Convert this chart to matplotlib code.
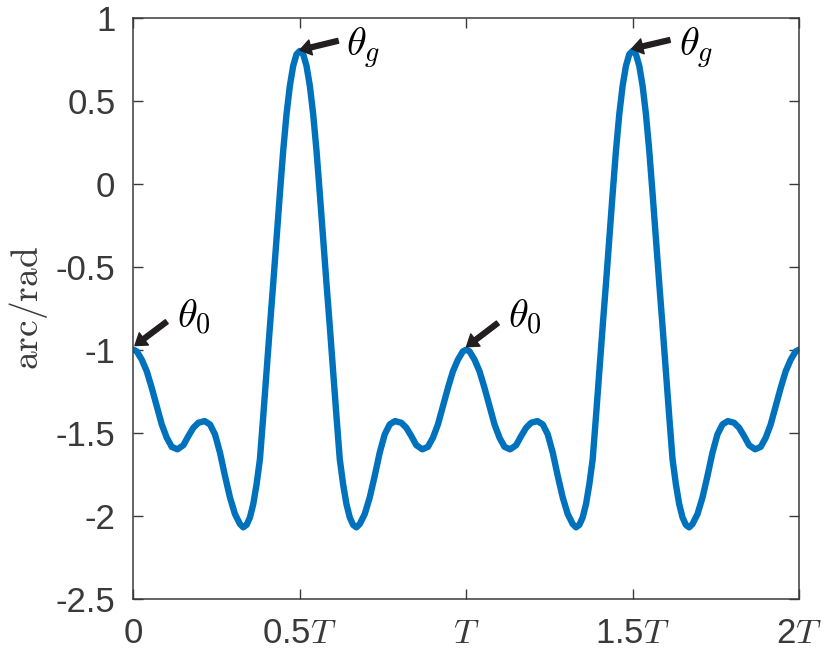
import matplotlib
matplotlib.use("Agg")
import matplotlib.pyplot as plt

plt.rcParams['font.family'] = ['Liberation Sans', 'DejaVu Sans']
plt.rcParams['mathtext.fontset'] = 'cm'

# time in units of T, angle in rad
t_vals = [0.000, 0.010, 0.025, 0.040, 0.055, 0.070, 0.085, 0.100, 0.115, 0.132,
          0.150, 0.165, 0.180, 0.195, 0.214, 0.230, 0.245, 0.260, 0.275, 0.290,
          0.305, 0.320, 0.330, 0.340, 0.350, 0.360, 0.370, 0.380, 0.390, 0.400,
          0.410, 0.420, 0.430, 0.440, 0.450, 0.460, 0.470, 0.480, 0.490, 0.500,
          0.510, 0.520, 0.530, 0.540, 0.550, 0.560, 0.570, 0.580, 0.590, 0.600,
          0.610, 0.620, 0.630, 0.640, 0.650, 0.660, 0.670, 0.680, 0.695, 0.710,
          0.725, 0.740, 0.755, 0.770, 0.786, 0.805, 0.820, 0.835, 0.850, 0.868,
          0.885, 0.900, 0.915, 0.930, 0.945, 0.960, 0.975, 0.990, 1.000,
          1.010, 1.025, 1.040, 1.055, 1.070, 1.085, 1.100, 1.115, 1.132,
          1.150, 1.165, 1.180, 1.195, 1.214, 1.230, 1.245, 1.260, 1.275, 1.290,
          1.305, 1.320, 1.330, 1.340, 1.350, 1.360, 1.370, 1.380, 1.390, 1.400,
          1.410, 1.420, 1.430, 1.440, 1.450, 1.460, 1.470, 1.480, 1.490, 1.500,
          1.510, 1.520, 1.530, 1.540, 1.550, 1.560, 1.570, 1.580, 1.590, 1.600,
          1.610, 1.620, 1.630, 1.640, 1.650, 1.660, 1.670, 1.680, 1.695, 1.710,
          1.725, 1.740, 1.755, 1.770, 1.786, 1.805, 1.820, 1.835, 1.850, 1.868,
          1.885, 1.900, 1.915, 1.930, 1.945, 1.960, 1.975, 1.990, 2.000]
theta_vals = [-1.00, -1.01, -1.06, -1.13, -1.23, -1.34, -1.45, -1.53, -1.585, -1.60,
              -1.575, -1.52, -1.47, -1.44, -1.43, -1.45, -1.51, -1.62, -1.76, -1.89,
              -1.99, -2.05, -2.07, -2.055, -2.01, -1.93, -1.81, -1.66, -1.40, -1.13,
              -0.86, -0.60, -0.33, -0.06, 0.20, 0.42, 0.59, 0.71, 0.78, 0.80,
              0.78, 0.71, 0.59, 0.42, 0.20, -0.06, -0.33, -0.60, -0.86, -1.13,
              -1.40, -1.66, -1.81, -1.93, -2.01, -2.055, -2.07, -2.05, -1.99, -1.89,
              -1.76, -1.62, -1.51, -1.45, -1.43, -1.44, -1.47, -1.52, -1.575, -1.60,
              -1.585, -1.53, -1.45, -1.34, -1.23, -1.13, -1.06, -1.01, -1.00,
              -1.01, -1.06, -1.13, -1.23, -1.34, -1.45, -1.53, -1.585, -1.60,
              -1.575, -1.52, -1.47, -1.44, -1.43, -1.45, -1.51, -1.62, -1.76, -1.89,
              -1.99, -2.05, -2.07, -2.055, -2.01, -1.93, -1.81, -1.66, -1.40, -1.13,
              -0.86, -0.60, -0.33, -0.06, 0.20, 0.42, 0.59, 0.71, 0.78, 0.80,
              0.78, 0.71, 0.59, 0.42, 0.20, -0.06, -0.33, -0.60, -0.86, -1.13,
              -1.40, -1.66, -1.81, -1.93, -2.01, -2.055, -2.07, -2.05, -1.99, -1.89,
              -1.76, -1.62, -1.51, -1.45, -1.43, -1.44, -1.47, -1.52, -1.575, -1.60,
              -1.585, -1.53, -1.45, -1.34, -1.23, -1.13, -1.06, -1.01, -1.00]

xticks = [0, 0.5, 1, 1.5, 2]
xtick_labels = ['0', '0.5$T$', '$T$', '1.5$T$', '2$T$']
yticks = [-2.5, -2, -1.5, -1, -0.5, 0, 0.5, 1]
ytick_labels = ['-2.5', '-2', '-1.5', '-1', '-0.5', '0', '0.5', '1']

# annotations: (label, arrow tip, arrow tail, text position)
notes = [
    (r'$\theta_0$', (0.0045, -0.975), (0.100, -0.831), (0.131, -0.868)),
    (r'$\theta_g$', (0.500, 0.805), (0.615, 0.861), (0.639, 0.770)),
    (r'$\theta_0$', (1.001, -0.982), (1.095, -0.839), (1.125, -0.868)),
    (r'$\theta_g$', (1.497, 0.812), (1.612, 0.866), (1.639, 0.770)),
]

axis_gray = '#3a3a3a'

fig = plt.figure(figsize=(8.29, 6.66), dpi=100)
ax = fig.add_axes([0.161, 0.101, 0.8028, 0.8724])

ax.plot(t_vals, theta_vals, color='#0072BD', linewidth=4.6, solid_joinstyle='round',
        solid_capstyle='round')

for label, tip, tail, pos in notes:
    ax.annotate('', xy=tip, xytext=tail,
                arrowprops=dict(facecolor='#231f20', edgecolor='#231f20',
                                width=3.5, headwidth=11, headlength=8, shrink=0))
    ax.text(pos[0], pos[1], label, fontsize=29, ha='left', va='baseline', color='black')

ax.set_xlim(0, 2)
ax.set_ylim(-2.5, 1)
ax.set_xticks(xticks)
ax.set_xticklabels(xtick_labels)
ax.set_yticks(yticks)
ax.set_yticklabels(ytick_labels)
ax.tick_params(direction='in', length=7, width=1, colors=axis_gray, labelsize=25,
               top=True, right=True, pad=13)
for side in ax.spines.values():
    side.set_color(axis_gray)
    side.set_linewidth(1.1)

ax.set_ylabel(r'$\mathrm{arc/rad}$', fontsize=27, color=axis_gray, labelpad=4)

fig.savefig('out.png', dpi=100)
